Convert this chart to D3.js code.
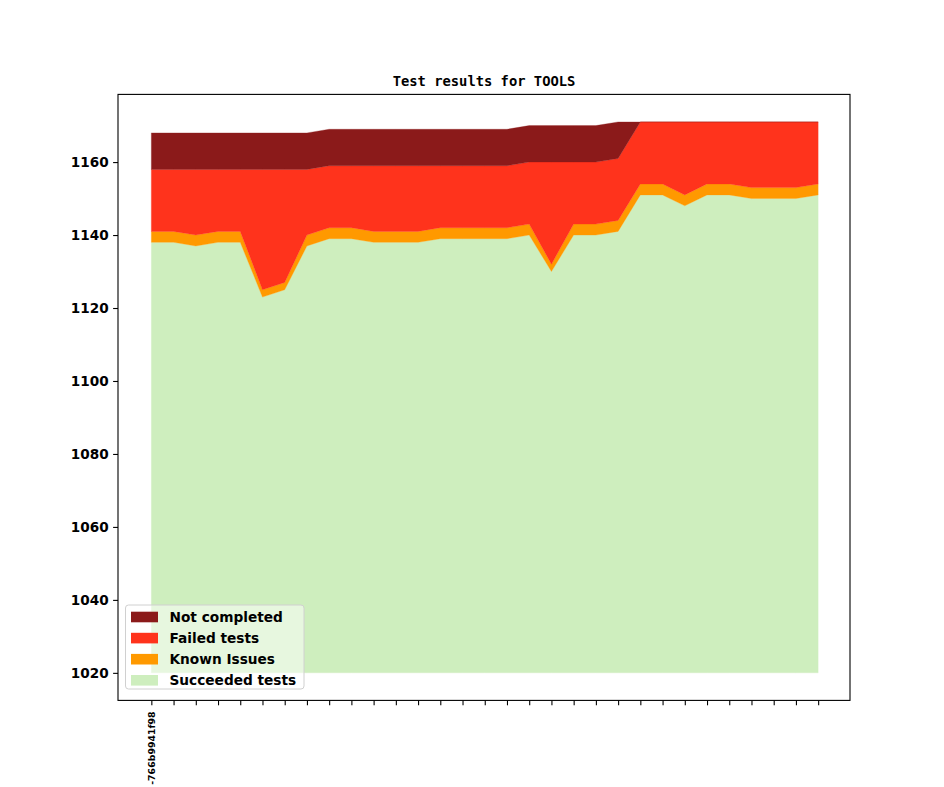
<!DOCTYPE html>
<html>
<head>
<meta charset="utf-8">
<script src="https://cdn.jsdelivr.net/npm/d3@7"></script>
<style>
  html, body { margin: 0; padding: 0; background: #fff; }
  svg { display: block; }
</style>
</head>
<body>
<svg id="chart" width="944" height="787"></svg>
<script>
// ---- data ----
const title = "Test results for TOOLS";
const baseline = 1020;
const xLabels = ["-766b9941f98"].concat(Array(30).fill(""));
const succeeded   = [1138,1138,1137,1138,1138,1123,1125,1137,1139,1139,1138,1138,1138,1139,1139,1139,1139,1140,1130,1140,1140,1141,1151,1151,1148,1151,1151,1150,1150,1150,1151];
const knownIssues = [3,3,3,3,3,2,2,3,3,3,3,3,3,3,3,3,3,3,2,3,3,3,3,3,3,3,3,3,3,3,3];
const failedTests = [17,17,18,17,17,33,31,18,17,17,18,18,18,17,17,17,17,17,28,17,17,17,17,17,20,17,17,18,18,18,17];
const notCompleted = [10,10,10,10,10,10,10,10,10,10,10,10,10,10,10,10,10,10,10,10,10,10,0,0,0,0,0,0,0,0,0];
const yTicks = [1020,1040,1060,1080,1100,1120,1140,1160];
const seriesNames = ["Succeeded tests","Known Issues","Failed tests","Not completed"];
const seriesColors = ["#ceeebe","#ff9900","#ff331c","#8b1a1a"];

// ---- layout ----
const W = 944, H = 787;
const m = {left: 118, right: 944 - 850, top: 94.4, bottom: 787 - 700.4};
const svg = d3.select("#chart");

const rows = succeeded.map((s, i) => ({
  i,
  "Succeeded tests": s - baseline,
  "Known Issues": knownIssues[i],
  "Failed tests": failedTests[i],
  "Not completed": notCompleted[i]
}));
const stacked = d3.stack().keys(seriesNames)(rows);

const n = rows.length;
const xPad = (n - 1) * 0.05;
const x = d3.scaleLinear().domain([-xPad, n - 1 + xPad]).range([m.left, W - m.right + 1.5]);
const yMax = d3.max(stacked[stacked.length - 1], d => d[1]) + baseline;
const yPad = (yMax - baseline) * 0.05;
const y = d3.scaleLinear().domain([baseline - yPad, yMax + yPad]).range([H - m.bottom, m.top]);

const area = d3.area()
  .x(d => x(d.data.i))
  .y0(d => y(d[0] + baseline))
  .y1(d => y(d[1] + baseline));

svg.append("g").selectAll("path")
  .data(stacked)
  .join("path")
  .attr("d", area)
  .attr("fill", (d, k) => seriesColors[k])
  .attr("stroke", (d, k) => seriesColors[k])
  .attr("stroke-width", 0.3);

// axes
const fontSans = "'DejaVu Sans', sans-serif";
const yAxis = svg.append("g")
  .attr("transform", `translate(${m.left},0)`)
  .call(d3.axisLeft(y).tickValues(yTicks).tickFormat(d3.format("d")).tickSize(4.9).tickPadding(4.5));
yAxis.select(".domain").remove();
yAxis.selectAll("line").attr("stroke", "#000").attr("stroke-width", 1.1);
yAxis.selectAll("text").attr("font-family", fontSans).attr("font-weight", "bold")
  .attr("font-size", "13.6px").attr("fill", "#000");

const xAxis = svg.append("g")
  .attr("transform", `translate(0,${H - m.bottom})`)
  .call(d3.axisBottom(x).tickValues(d3.range(n)).tickFormat(i => xLabels[i]).tickSize(4.9).tickPadding(0));
xAxis.select(".domain").remove();
xAxis.selectAll("line").attr("stroke", "#000").attr("stroke-width", 1.1);
xAxis.selectAll("text")
  .attr("font-family", fontSans).attr("font-weight", "bold").attr("font-size", "9.4px").attr("fill", "#000")
  .attr("text-anchor", "end")
  .attr("dy", null)
  .attr("y", 0)
  .attr("transform", "translate(3.4,11) rotate(-90)");

// frame
svg.append("rect")
  .attr("x", m.left).attr("y", m.top)
  .attr("width", W - m.right - m.left).attr("height", H - m.bottom - m.top)
  .attr("fill", "none").attr("stroke", "#000").attr("stroke-width", 1.1);

// title
svg.append("text")
  .attr("x", (m.left + W - m.right) / 2).attr("y", 86)
  .attr("text-anchor", "middle")
  .attr("font-family", "'DejaVu Sans Mono', monospace").attr("font-weight", "bold")
  .attr("font-size", "13.8px").attr("fill", "#000")
  .text(title);

// legend
const legendItems = seriesNames.map((s, k) => ({name: s, color: seriesColors[k]})).reverse();
const lg = svg.append("g");
lg.append("rect")
  .attr("x", 125.5).attr("y", 605).attr("width", 178.5).attr("height", 84)
  .attr("rx", 3).attr("ry", 3)
  .attr("fill", "#fff").attr("fill-opacity", 0.5)
  .attr("stroke", "#d0d0d0").attr("stroke-width", 1);
legendItems.forEach((it, k) => {
  const cy = 617 + k * 21.1;
  lg.append("rect").attr("x", 131).attr("y", cy - 5.3).attr("width", 27).attr("height", 10.6).attr("fill", it.color);
  lg.append("text").attr("x", 169.5).attr("y", cy + 5)
    .attr("font-family", fontSans).attr("font-weight", "bold").attr("font-size", "13.7px").attr("fill", "#000")
    .text(it.name);
});
</script>
</body>
</html>
